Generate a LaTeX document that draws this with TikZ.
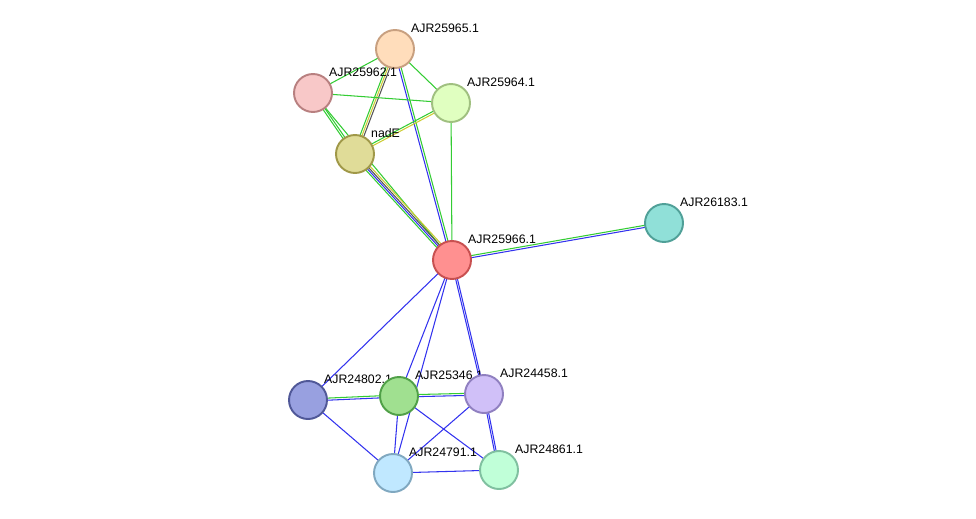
\documentclass[tikz,border=0pt]{standalone}
\usepackage{fontspec}
\setmainfont{Liberation Sans}
\usetikzlibrary{calc,backgrounds}
\definecolor{lgreen}{HTML}{33CC33}
\definecolor{lblue}{HTML}{3333EE}
\definecolor{lyellow}{HTML}{CCCC33}
\definecolor{ldark}{HTML}{555555}
\definecolor{f65}{HTML}{FFDDBB}\definecolor{d65}{HTML}{C8A080}
\definecolor{f62}{HTML}{F8C8C8}\definecolor{d62}{HTML}{B88080}
\definecolor{f64}{HTML}{E0FFC0}\definecolor{d64}{HTML}{A0C080}
\definecolor{fnad}{HTML}{E0DC98}\definecolor{dnad}{HTML}{A09848}
\definecolor{f66}{HTML}{FF9090}\definecolor{d66}{HTML}{C85050}
\definecolor{f83}{HTML}{90E0D8}\definecolor{d83}{HTML}{50A098}
\definecolor{f02}{HTML}{98A0E0}\definecolor{d02}{HTML}{505898}
\definecolor{f46}{HTML}{A0E090}\definecolor{d46}{HTML}{50A048}
\definecolor{f58}{HTML}{D0C0F8}\definecolor{d58}{HTML}{9080C0}
\definecolor{f91}{HTML}{C0E8FF}\definecolor{d91}{HTML}{80A8C0}
\definecolor{f61}{HTML}{C0FFD8}\definecolor{d61}{HTML}{80C0A0}
\tikzset{
  prot/.style 2 args={circle,minimum size=0.76cm,inner sep=0pt,line width=1.1pt,fill=#1,draw=#2},
  lbl/.style={font=\fontsize{7}{8}\selectfont,inner sep=1pt},
  link/.style={line width=0.6pt}
}
% one line of an edge, shifted sideways by #3
\newcommand\lnk[4]{\draw[link,#4] ($(#1)!#3!90:(#2)$) -- ($(#2)!#3!-90:(#1)$);}
\begin{document}
\begin{tikzpicture}[x=0.02cm,y=-0.02cm]
  \useasboundingbox (0,0) rectangle (976,518);

  % Proteine
  \node[prot={f65}{d65},label={[lbl]north east:AJR25965.1}] (p65) at (395,49) {};
  \node[prot={f62}{d62},label={[lbl]north east:AJR25962.1}] (p62) at (313,93) {};
  \node[prot={f64}{d64},label={[lbl]north east:AJR25964.1}] (p64) at (451,103) {};
  \node[prot={fnad}{dnad},label={[lbl]north east:nadE}] (nad) at (355,154) {};
  \node[prot={f66}{d66},label={[lbl]north east:AJR25966.1}] (p66) at (452,260) {};
  \node[prot={f83}{d83},label={[lbl]north east:AJR26183.1}] (p83) at (664,223) {};
  \node[prot={f02}{d02},label={[lbl]north east:AJR24802.1}] (p02) at (308,400) {};
  \node[prot={f46}{d46},label={[lbl]north east:AJR25346.1}] (p46) at (399,396) {};
  \node[prot={f58}{d58},label={[lbl]north east:AJR24458.1}] (p58) at (484,394) {};
  \node[prot={f91}{d91},label={[lbl]north east:AJR24791.1}] (p91) at (393,473) {};
  \node[prot={f61}{d61},label={[lbl]north east:AJR24861.1}] (p61) at (499,470) {};

  \begin{scope}[on background layer]
    % oben
    \lnk{p65}{p62}{0pt}{lgreen}
    \lnk{p65}{p64}{0pt}{lgreen}
    \lnk{p65}{nad}{-1.1pt}{lgreen}
    \lnk{p65}{nad}{0pt}{lyellow}
    \lnk{p65}{nad}{1.1pt}{ldark}
    \lnk{p65}{p66}{-0.6pt}{lblue}
    \lnk{p65}{p66}{0.6pt}{lgreen}
    \lnk{p62}{p64}{0pt}{lgreen}
    \lnk{p62}{nad}{-0.6pt}{lgreen}
    \lnk{p62}{nad}{0.6pt}{lgreen}
    \lnk{p62}{p66}{0pt}{lgreen}
    \lnk{p64}{nad}{-0.6pt}{lgreen}
    \lnk{p64}{nad}{0.6pt}{lyellow}
    \lnk{p64}{p66}{0pt}{lgreen}
    \lnk{nad}{p66}{-1.6pt}{lgreen}
    \lnk{nad}{p66}{-0.5pt}{lblue}
    \lnk{nad}{p66}{0.5pt}{ldark}
    \lnk{nad}{p66}{1.6pt}{lyellow}
    \lnk{p66}{p83}{-0.6pt}{lblue}
    \lnk{p66}{p83}{0.6pt}{lgreen}
    % unten
    \lnk{p66}{p02}{0pt}{lblue}
    \lnk{p66}{p46}{0pt}{lblue}
    \lnk{p66}{p58}{-0.5pt}{lblue}
    \lnk{p66}{p58}{0.5pt}{lblue}
    \lnk{p66}{p91}{0pt}{lblue}
    \lnk{p02}{p46}{-0.6pt}{lblue}
    \lnk{p02}{p46}{0.6pt}{lgreen}
    \lnk{p02}{p91}{0pt}{lblue}
    \lnk{p46}{p58}{-0.6pt}{lblue}
    \lnk{p46}{p58}{0.6pt}{lgreen}
    \lnk{p46}{p91}{0pt}{lblue}
    \lnk{p46}{p61}{0pt}{lblue}
    \lnk{p58}{p91}{0pt}{lblue}
    \lnk{p58}{p61}{-0.5pt}{lblue}
    \lnk{p58}{p61}{0.5pt}{lblue}
    \lnk{p91}{p61}{0pt}{lblue}
  \end{scope}
\end{tikzpicture}
\end{document}
